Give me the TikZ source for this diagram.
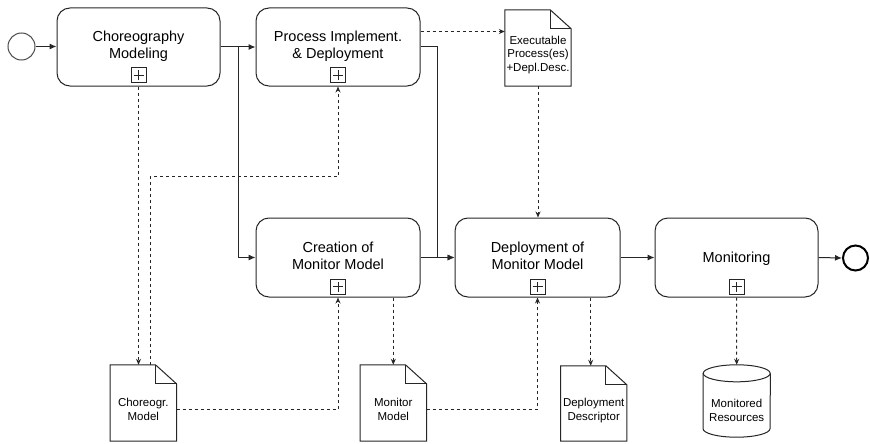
\documentclass[tikz,border=0pt]{standalone}
\usepackage{fontspec}
\setmainfont{Liberation Sans}
\usetikzlibrary{arrows.meta,calc}

\tikzset{
  lineclr/.style={draw=black!85},
  task/.style={lineclr, line width=1pt, rounded corners=13pt, minimum width=164pt,
    minimum height=79pt, inner sep=0pt, align=center,
    font=\fontsize{14.5}{17}\selectfont, text height=23.5pt, text depth=0pt},
  plusbox/.style={lineclr, line width=0.9pt, minimum size=15pt, inner sep=0pt,
    path picture={\draw[line width=0.8pt]
      ([xshift=-5pt]path picture bounding box.center) -- ([xshift=5pt]path picture bounding box.center)
      ([yshift=-5pt]path picture bounding box.center) -- ([yshift=5pt]path picture bounding box.center);}},
  docnode/.style={minimum width=66pt, minimum height=76pt, inner sep=0pt, align=center,
    font=\fontsize{11.5}{14}\selectfont, text height=34pt, text depth=0pt},
  flow/.style={lineclr, line width=1pt, -{Latex[length=7pt,width=6pt]}},
  dflow/.style={lineclr, line width=1pt, dash pattern=on 3pt off 3pt,
    -{Stealth[length=6pt,width=5pt]}},
}

% outline of a document with a folded top-right corner
\newcommand\docoutline[1]{%
  \draw[lineclr, line width=1pt, fill=white]
    (#1.north west) -- ([xshift=-21pt]#1.north east) -- ([yshift=-19pt]#1.north east)
    -- (#1.south east) -- (#1.south west) -- cycle;
  \draw[lineclr, line width=1pt]
    ([xshift=-21pt]#1.north east) -- ([xshift=-21pt,yshift=-19pt]#1.north east)
    -- ([yshift=-19pt]#1.north east);}

\begin{document}
\begin{tikzpicture}[x=1pt,y=-1pt]
\useasboundingbox (0,0) rectangle (870,444);

% events
\node[circle, draw=black!70, line width=1pt, minimum size=27pt, inner sep=0pt] (start) at (21.5,46.5) {};
\node[circle, draw=black, line width=2pt, minimum size=25pt, inner sep=0pt] (endev) at (855.5,258) {};

% tasks
\node[task, minimum width=163pt, minimum height=78pt] (chor) at (138.5,47) {Choreography\\Modeling};
\node[task, minimum height=78pt] (proc) at (338,47) {Process Implement.\\\& Deployment};
\node[task] (create) at (338,257.5) {Creation of\\Monitor Model};
\node[task, minimum width=165pt] (deploy) at (537.5,257.5) {Deployment of\\Monitor Model};
\node[task, minimum width=163pt, text height=9pt] (monit) at (736.5,257.5) {Monitoring};

% sub-process markers
\node[plusbox] (chorplus) at ([yshift=11.5pt]chor.south) {};
\node[plusbox] (procplus) at ([yshift=11.5pt]proc.south) {};
\node[plusbox] (createplus) at ([yshift=11pt]create.south) {};
\node[plusbox] (deployplus) at ([yshift=11pt]deploy.south) {};
\node[plusbox] (monitplus) at ([yshift=11pt]monit.south) {};

% data objects: frame first, then the text on top
\node[docnode] (exec) at (538,48) {};
\docoutline{exec}
\node[docnode, text height=48pt] (exectxt) at (538,48) {Executable\\Process(es)\\+Depl.Desc.};

\node[docnode] (chm) at (143.3,403) {};
\docoutline{chm}
\node[docnode] (chmtxt) at (143.3,403) {Choreogr.\\Model};

\node[docnode] (mm) at (393.3,403) {};
\docoutline{mm}
\node[docnode] (mmtxt) at (393.3,403) {Monitor\\Model};

\node[docnode, minimum height=75pt] (dd) at (593.7,403.5) {};
\docoutline{dd}
\node[docnode, minimum height=75pt, text height=33pt] (ddtxt) at (593.7,403.5) {Deployment\\Descriptor};

% data store
\node[docnode, minimum width=67pt, minimum height=72pt] (res) at (736.7,401) {};
\draw[lineclr, line width=1pt, fill=white]
  ([yshift=-8.5pt]res.north west) -- ([yshift=8.5pt]res.south west)
  arc[start angle=180, end angle=360, x radius=33.5pt, y radius=8.5pt]
  -- ([yshift=-8.5pt]res.north east);
\draw[lineclr, line width=1pt, fill=white] ([yshift=-8.5pt]res.north) ellipse [x radius=33.5pt, y radius=8.5pt];
\node[docnode, minimum width=67pt, minimum height=72pt, text height=41pt] (restxt) at (736.7,401) {Monitored\\Resources};

% sequence flows
\draw[flow] (start.east) -- (start.east -| chor.west);
\draw[flow] (chor.east) -- (proc.west);
\draw[flow] (chor.east) -- ++(18,0) |- (create.west);
\draw[flow] (proc.east) -- ++(17,0) |- (deploy.west);
\draw[flow] (create.east) -- (deploy.west);
\draw[flow] (deploy.east) -- (monit.west);
\draw[flow] (monit.east) -- (endev.west);

% data associations
\draw[dflow] ([yshift=15.5pt]proc.east) -- ([yshift=15.5pt]proc.east -| exec.west);
\draw[dflow] (exec.south) -- (exec.south |- deploy.north);
\draw[dflow] (chor.south) -- (chor.south |- chm.north);
\draw[dflow] ([xshift=7pt]chm.north) -- ++(0,-188) -| (proc.south);
\draw[dflow] ([yshift=-6pt]chm.east) -| (create.south);
\draw[dflow] (create.south -| mm.north) -- (mm.north);
\draw[dflow] ([yshift=-6pt]mm.east) -| (deploy.south);
\draw[dflow] ([xshift=-3pt]dd.north |- deploy.south) -- ([xshift=-3pt]dd.north);
\draw[dflow] (monit.south) -- (res.north);
\end{tikzpicture}
\end{document}
